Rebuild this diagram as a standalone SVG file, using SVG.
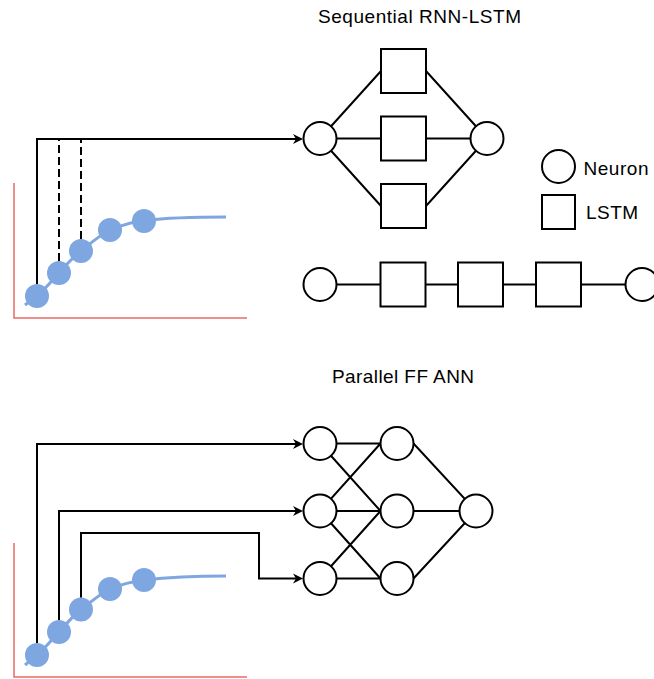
<svg xmlns="http://www.w3.org/2000/svg" width="654" height="679" viewBox="0 0 654 679">
<style>
.ln{fill:none;stroke:#000;stroke-width:2}
.dash{fill:none;stroke:#000;stroke-width:2;stroke-dasharray:8 4}
.nd{fill:#fff;stroke:#000;stroke-width:2}
.axis{fill:none;stroke:#EA6B66;stroke-width:1.5}
.curve{fill:none;stroke:#7EA6E0;stroke-width:3}
.pt{fill:#7EA6E0}
.t{font-family:"Liberation Sans",Arial,Helvetica,sans-serif;fill:#000}
</style>
<defs>
<marker id="arr" markerUnits="userSpaceOnUse" markerWidth="12" markerHeight="12" refX="3" refY="5" orient="auto" overflow="visible"><path d="M0,0 L10,5 L0,10 L3,5 Z" fill="#000"/></marker>
</defs>

<text class="t" x="318" y="22.5" font-size="19" textLength="203" lengthAdjust="spacing">Sequential RNN-LSTM</text>
<text class="t" x="332" y="382.5" font-size="19" textLength="142" lengthAdjust="spacing">Parallel FF ANN</text>

<g id="chart-top">
<path class="axis" d="M14,183 V318 H247"/>
<path class="curve" d="M25,305 L37,296 C45,289 52,281 59,273 C66,265 72,258 81,251 C92,242 100,235 110,230 C122,225 132,222 144,220.5 C170,217.5 200,217 226,217"/>
<circle class="pt" cx="37" cy="296" r="12"/>
<circle class="pt" cx="59" cy="273" r="12"/>
<circle class="pt" cx="81" cy="251" r="12"/>
<circle class="pt" cx="110" cy="230" r="12"/>
<circle class="pt" cx="144" cy="221" r="12"/>
</g>

<g id="chart-bottom">
<path class="axis" d="M14,543 V677 H247"/>
<path class="curve" d="M25,665 L37,655 C45,648 52,640 59,632 C66,624 72,617 81,609.5 C92,601 100,594 110,589 C122,584 132,581.5 144,580 C170,577 200,576 226,576"/>
<circle class="pt" cx="37" cy="655" r="12"/>
<circle class="pt" cx="59" cy="632" r="12"/>
<circle class="pt" cx="81" cy="609.5" r="12"/>
<circle class="pt" cx="110" cy="589" r="12"/>
<circle class="pt" cx="144" cy="580" r="12"/>
</g>

<g id="connectors">
<path class="ln" d="M37,284 V139 H296" marker-end="url(#arr)"/>
<path class="dash" d="M59,261 V139"/>
<path class="dash" d="M81,239 V139"/>
<path class="ln" d="M37,643 V444 H296" marker-end="url(#arr)"/>
<path class="ln" d="M59,620 V511 H296" marker-end="url(#arr)"/>
<path class="ln" d="M81,597.5 V533 H259 V578.5 H296" marker-end="url(#arr)"/>

<path class="ln" d="M320,138.5 L381,71 M320,138.5 H381 M320,138.5 L381,206"/>
<path class="ln" d="M426,71 L487,138.5 M426,138.5 H487 M426,206 L487,138.5"/>
<path class="ln" d="M320,284.5 H642"/>

<path class="ln" d="M320,443.5 H380.5 M320,443.5 L380.5,511 M320,511 L380.5,443.5 M320,511 H380.5 M320,511 L380.5,578.5 M320,578.5 L380.5,511 M320,578.5 H380.5"/>
<path class="ln" d="M413.5,443.5 L476,511 M413.5,511 H476 M413.5,578.5 L476,511"/>
</g>

<g id="seq-in"><circle class="nd" cx="320" cy="138.5" r="16.5"/></g>
<g id="seq-out"><circle class="nd" cx="487" cy="138.5" r="16.5"/></g>
<g id="seq-lstm1"><rect class="nd" x="381" y="49" width="45" height="44"/></g>
<g id="seq-lstm2"><rect class="nd" x="381" y="116.5" width="45" height="44"/></g>
<g id="seq-lstm3"><rect class="nd" x="381" y="184" width="45" height="44"/></g>

<g id="chain-in"><circle class="nd" cx="320" cy="284.5" r="16.5"/></g>
<g id="chain-lstm1"><rect class="nd" x="380.5" y="262.5" width="45" height="44"/></g>
<g id="chain-lstm2"><rect class="nd" x="458" y="262.5" width="45" height="44"/></g>
<g id="chain-lstm3"><rect class="nd" x="536" y="262.5" width="45" height="44"/></g>
<g id="chain-out"><circle class="nd" cx="642" cy="284.5" r="16.5"/></g>

<g id="legend-neuron"><circle class="nd" cx="558.5" cy="166.5" r="16.5"/><text class="t" x="583.5" y="175" font-size="19" textLength="65" lengthAdjust="spacing">Neuron</text></g>
<g id="legend-lstm"><rect class="nd" x="542" y="195" width="33" height="34"/><text class="t" x="586" y="218.5" font-size="19" textLength="52" lengthAdjust="spacing">LSTM</text></g>

<g id="ff-in1"><circle class="nd" cx="320" cy="443.5" r="16.5"/></g>
<g id="ff-in2"><circle class="nd" cx="320" cy="511" r="16.5"/></g>
<g id="ff-in3"><circle class="nd" cx="320" cy="578.5" r="16.5"/></g>
<g id="ff-h1"><circle class="nd" cx="397" cy="443.5" r="16.5"/></g>
<g id="ff-h2"><circle class="nd" cx="397" cy="511" r="16.5"/></g>
<g id="ff-h3"><circle class="nd" cx="397" cy="578.5" r="16.5"/></g>
<g id="ff-out"><circle class="nd" cx="476" cy="511" r="16.5"/></g>
</svg>
